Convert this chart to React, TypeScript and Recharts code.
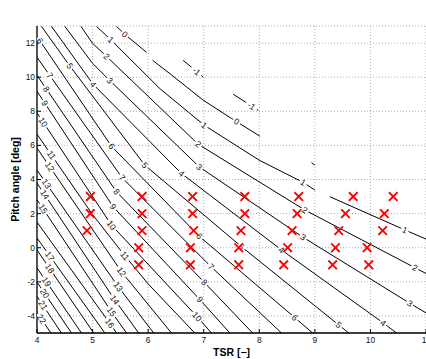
import React from 'react';
import { ComposedChart, Line, Scatter, XAxis, YAxis, CartesianGrid } from 'recharts';

const W = 426;
const H = 359;
const TOP = 26;
const Y_AXIS_W = 37;
const X_AXIS_H = 26;
const FONT = '"Liberation Sans", Arial, Helvetica, sans-serif';

const xTicks = [4, 5, 6, 7, 8, 9, 10, 11];
const yTicks = [-4, -2, 0, 2, 4, 6, 8, 10, 12];

// contour polylines [TSR, pitch]
const c22 = [[4, -3.8], [4.25, -5]];
const c21 = [[4, -2.85], [4.44, -5]];
const c20 = [[4, -2.01], [4.62, -5]];
const c19 = [[4, -1.19], [4.8, -5]];
const c18 = [[4, -0.13], [5.02, -5]];
const c17 = [[4, 0.57], [5.22, -5]];
const c16 = [[4, 1.5], [5.31, -4.43], [5.43, -5]];
const c15 = [[4, 2.82], [5.34, -3.75], [5.61, -5]];
const c14 = [[4, 3.79], [5.4, -3.06], [5.83, -5]];
const c13 = [[4, 4.55], [5.46, -2.28], [6.1, -5]];
const c12 = [[4, 5.84], [5.52, -1.41], [6.42, -5]];
const c11 = [[4, 6.66], [5, 1.94], [5.58, -0.47], [6, -2.12], [6.84, -5]];
const c10 = [[4, 7.91], [5.34, 1.33], [6.88, -4.04], [7.14, -5]];
const c9 = [[4, 9.17], [5.37, 2.4], [6.93, -3.04], [7.47, -5]];
const c8 = [[4, 10.11], [5.43, 3.28], [7.01, -2.03], [7.88, -5]];
const c7 = [[4, 11.16], [5.53, 4.11], [7.13, -1.11], [8.4, -5]];
const c6 = [[4, 12.38], [5.34, 5.95], [6.92, 0.67], [8.64, -4.1], [8.96, -5]];
const c5 = [[4.08, 12.98], [4.59, 10.66], [5.94, 4.84], [7.68, 0.06], [9.43, -4.53], [9.61, -5]];
const c4 = [[4.26, 12.98], [5.01, 9.58], [6.6, 4.35], [8.4, -0.13], [10.23, -4.41], [10.47, -5]];
const c3 = [[4.5, 12.98], [5.0, 10.81], [5.31, 9.8], [6.92, 4.74], [8.79, 0.61], [10.71, -3.26], [11, -3.82]];
const c2 = [[4.79, 12.98], [5.0, 11.98], [5.25, 11.22], [6.9, 6.07], [8.82, 2.21], [10.8, -1.17], [11, -1.51]];
const c1a = [[5.07, 12.98], [5.33, 12.19], [6.21, 9.33], [7.01, 7.18], [8.0, 5.13], [8.79, 3.83], [9.0, 3.38]];
const c1b = [[8.94, 4.99], [9.0, 4.84]];
const c1c = [[9.27, 2.99], [10.62, 1.04], [11, 0.51]];
const c0a = [[5.43, 12.98], [5.58, 12.51], [5.97, 11.46]];
const c0b = [[6.08, 10.99], [6.39, 10.21], [6.99, 8.65], [7.5, 7.58], [8.01, 6.54]];
const cm1a = [[6.63, 10.99], [6.99, 10.01]];
const cm1b = [[7.53, 9.0], [7.98, 8.06]];

const contours = [
  { level: 22, pts: c22 }, { level: 21, pts: c21 }, { level: 20, pts: c20 },
  { level: 19, pts: c19 }, { level: 18, pts: c18 }, { level: 17, pts: c17 },
  { level: 16, pts: c16 }, { level: 15, pts: c15 }, { level: 14, pts: c14 },
  { level: 13, pts: c13 }, { level: 12, pts: c12 }, { level: 11, pts: c11 },
  { level: 10, pts: c10 }, { level: 9, pts: c9 }, { level: 8, pts: c8 },
  { level: 7, pts: c7 }, { level: 6, pts: c6 }, { level: 5, pts: c5 },
  { level: 4, pts: c4 }, { level: 3, pts: c3 }, { level: 2, pts: c2 },
  { level: 1, pts: c1a }, { level: 1, pts: c1b }, { level: 1, pts: c1c },
  { level: 0, pts: c0a }, { level: 0, pts: c0b },
  { level: -1, pts: cm1a }, { level: -1, pts: cm1b },
];

// contour labels [level, TSR, pitch]
const contourLabels = [
  [22, 4.08, -4.18], [21, 4.11, -3.37], [20, 4.14, -2.68], [19, 4.17, -2.0], [18, 4.23, -1.22], [17, 4.23, -0.5],
  [16, 5.31, -4.43],
  [15, 4.11, 2.28], [15, 5.34, -3.75],
  [14, 4.14, 3.11], [14, 5.4, -3.06],
  [13, 4.17, 3.75], [13, 5.46, -2.28],
  [12, 4.23, 4.74], [12, 5.52, -1.41],
  [11, 4.26, 5.43], [11, 5.58, -0.47],
  [10, 4.11, 7.37], [10, 5.34, 1.33], [10, 6.88, -4.04],
  [9, 4.14, 8.48], [9, 5.37, 2.4], [9, 6.93, -3.04],
  [8, 4.17, 9.3], [8, 5.43, 3.28], [8, 7.01, -2.03],
  [7, 4.23, 10.1], [7, 5.53, 4.11], [7, 7.13, -1.11],
  [6, 4.05, 12.14], [6, 5.34, 5.95], [6, 6.92, 0.67], [6, 8.64, -4.1],
  [5, 4.59, 10.66], [5, 5.94, 4.84], [5, 7.68, 0.06], [5, 9.43, -4.53],
  [4, 5.01, 9.58], [4, 6.6, 4.35], [4, 8.4, -0.13], [4, 10.23, -4.41],
  [3, 5.31, 9.8], [3, 6.92, 4.74], [3, 8.79, 0.61], [3, 10.71, -3.26],
  [2, 5.25, 11.22], [2, 6.9, 6.07], [2, 8.82, 2.21], [2, 10.8, -1.17],
  [1, 5.33, 12.19], [1, 7.01, 7.18], [1, 8.79, 3.83], [1, 10.62, 1.04],
  [0, 5.58, 12.51], [0, 7.59, 7.4],
  [-1, 6.87, 10.34], [-1, 7.86, 8.31],
];

// measurement points (TSR per pitch row)
const tsrPitch3 = [4.96, 5.89, 6.8, 7.74, 8.71, 9.69, 10.41];
const tsrPitch2 = [4.96, 5.89, 6.8, 7.74, 8.68, 9.55, 10.25];
const tsrPitch1 = [4.9, 5.89, 6.82, 7.67, 8.59, 9.43, 10.22];
const tsrPitch0 = [5.83, 6.76, 7.63, 8.51, 9.37, 9.94];
const tsrPitchM1 = [5.83, 6.76, 7.63, 8.44, 9.32, 9.97];
const pitchRows: [number, number[]][] = [[3, tsrPitch3], [2, tsrPitch2], [1, tsrPitch1], [0, tsrPitch0], [-1, tsrPitchM1]];

const markers = pitchRows.flatMap(([p, arr]) => arr.map((t) => ({ x: t, y: p })));

const PXX = (W - Y_AXIS_W) / 7;
const PXY = (H - TOP - X_AXIS_H) / 18;

function labelAngle(level: number, x: number): number {
  const angs: number[] = [];
  let best: number[] | null = null;
  let bestD = Infinity;
  for (const c of contours) {
    if (c.level !== level) continue;
    for (let i = 0; i < c.pts.length - 1; i++) {
      const [x1, y1] = c.pts[i];
      const [x2, y2] = c.pts[i + 1];
      const a = (Math.atan2(-(y2 - y1) * PXY, (x2 - x1) * PXX) * 180) / Math.PI;
      const d = x < x1 ? x1 - x : x > x2 ? x - x2 : 0;
      if (d === 0) angs.push(a);
      if (d < bestD) { bestD = d; best = [a]; }
    }
  }
  if (angs.length) return angs.reduce((s, v) => s + v, 0) / angs.length;
  return best ? best[0] : 0;
}

const labelData = contourLabels.map(([lv, x, y]) => ({ x, y, text: String(lv), angle: labelAngle(lv, x) }));

const LabelShape = (props: any) => {
  const { cx, cy, payload } = props;
  if (cx == null || cy == null) return <g />;
  const t = payload.text as string;
  const w = t.length * 4.9 + 3;
  return (
    <g transform={`translate(${cx},${cy}) rotate(${payload.angle})`}>
      <rect x={-w / 2} y={-2.2} width={w} height={4.4} fill="#fff" />
      <text x={0} y={0} textAnchor="middle" dominantBaseline="central" fontSize={8.6} fontFamily={FONT} fill="#111">
        {t}
      </text>
    </g>
  );
};

const XMark = (props: any) => {
  const { cx, cy } = props;
  if (cx == null || cy == null) return <g />;
  const s = 3.6;
  return (
    <g stroke="#ff0000" strokeWidth={1.9} strokeLinecap="square">
      <line x1={cx - s} y1={cy - s} x2={cx + s} y2={cy + s} />
      <line x1={cx - s} y1={cy + s} x2={cx + s} y2={cy - s} />
    </g>
  );
};

const EmptyTick = () => <g />;

const tickStyle = { fontSize: 8.4, fill: '#111', fontFamily: FONT };

export default function App() {
  return (
    <div style={{ position: 'absolute', left: 0, top: 0, width: W, height: H, background: '#fff' }}>
      <ComposedChart width={W} height={H} margin={{ top: TOP, right: 0, bottom: 0, left: 0 }}>
        <CartesianGrid stroke="#9a9a9a" strokeDasharray="1 2" strokeWidth={0.8} />
        <XAxis
          dataKey="x"
          type="number"
          domain={[4, 11]}
          ticks={xTicks}
          interval={0}
          allowDataOverflow
          height={X_AXIS_H}
          tickSize={-4}
          tickMargin={8}
          tick={tickStyle}
          axisLine={{ stroke: '#000', strokeWidth: 1.3 }}
          tickLine={{ stroke: '#000' }}
          label={{
            content: () => (
              <text x={231.5} y={352} textAnchor="middle" dominantBaseline="central" fontSize={10.5} fontWeight="bold" fontFamily={FONT} fill="#000">
                TSR [−]
              </text>
            ),
          }}
        />
        <XAxis
          xAxisId="top"
          orientation="top"
          dataKey="x"
          type="number"
          domain={[4, 11]}
          ticks={xTicks}
          interval={0}
          allowDataOverflow
          height={0}
          tickSize={-4}
          tick={EmptyTick}
          axisLine={{ stroke: '#000', strokeWidth: 1.3 }}
          tickLine={{ stroke: '#000' }}
          label={{
            content: () => (
              <text x={231.5} y={15} textAnchor="middle" dominantBaseline="central" fontSize={10.3} fontWeight="bold" fontFamily={FONT} fill="#000">
                AoAs of AH79−100C (@<tspan fontWeight="normal">η</tspan>=0.42)
              </text>
            ),
          }}
        />
        <YAxis
          dataKey="y"
          type="number"
          domain={[-5, 13]}
          ticks={yTicks}
          interval={0}
          allowDataOverflow
          width={Y_AXIS_W}
          tickSize={-4}
          tickMargin={6}
          tick={tickStyle}
          axisLine={{ stroke: '#000', strokeWidth: 1.3 }}
          tickLine={{ stroke: '#000' }}
          label={{
            content: () => (
              <text x={15} y={179.5} transform="rotate(-90 15 179.5)" textAnchor="middle" dominantBaseline="central" fontSize={10.5} fontWeight="bold" fontFamily={FONT} fill="#000">
                Pitch angle [deg]
              </text>
            ),
          }}
        />
        <YAxis
          yAxisId="right"
          orientation="right"
          dataKey="y"
          type="number"
          domain={[-5, 13]}
          ticks={yTicks}
          interval={0}
          allowDataOverflow
          width={0}
          tickSize={-4}
          tick={EmptyTick}
          axisLine={{ stroke: '#000', strokeWidth: 1.3 }}
          tickLine={{ stroke: '#000' }}
        />
        {contours.map((c, i) => (
          <Line
            key={`c${i}`}
            data={c.pts.map(([x, y]) => ({ x, y }))}
            dataKey="y"
            stroke="#000"
            strokeWidth={1}
            dot={false}
            activeDot={false}
            isAnimationActive={false}
          />
        ))}
        <Scatter data={labelData} shape={LabelShape} isAnimationActive={false} />
        <Scatter data={markers} shape={XMark} isAnimationActive={false} />
      </ComposedChart>
    </div>
  );
}
